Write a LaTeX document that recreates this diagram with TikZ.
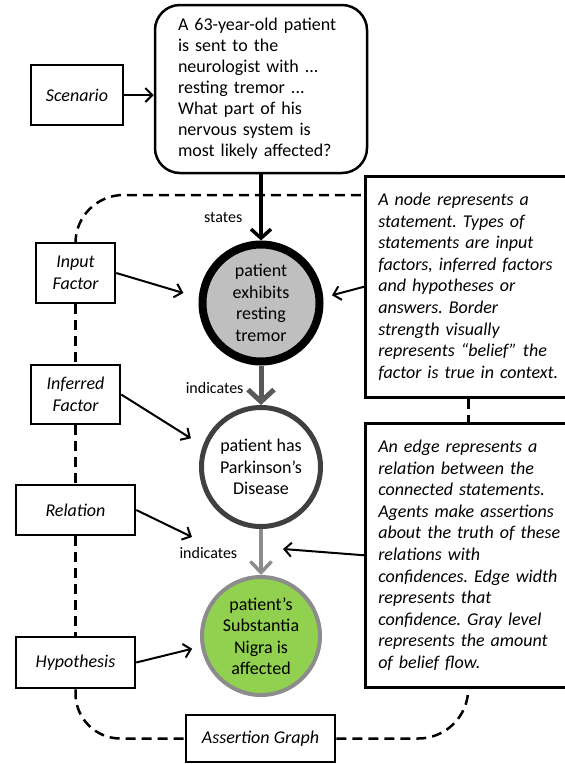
\documentclass[tikz,border=0pt]{standalone}
\usepackage{fontspec}
\setmainfont{Carlito}
\usetikzlibrary{arrows.meta,calc}
\definecolor{cfillgray}{HTML}{BFBFBF}
\definecolor{cdark}{HTML}{404040}
\definecolor{carrowa}{HTML}{595959}
\definecolor{carrowb}{HTML}{8C8C8C}
\definecolor{cgreen}{HTML}{92D050}
\frenchspacing
\begin{document}
\begin{tikzpicture}[x=1pt,y=-1pt,
  tbox/.style={draw, line width=2.5pt, rectangle, inner sep=0pt, align=center,
    font=\fontsize{18}{21.5}\selectfont\itshape},
  infobox/.style={draw, line width=2.5pt, rectangle, inner sep=0pt, inner xsep=0pt,
    minimum width=246pt, text width=220pt, align=left, anchor=north west,
    font=\fontsize{18}{21.6}\selectfont\itshape},
  stmt/.style={circle, draw, inner sep=0pt, align=center,
    font=\fontsize{18}{21.5}\selectfont},
  conn/.style={line width=2pt, -{Straight Barb[length=7pt,width=14pt]}},
  dashline/.style={line width=2.5pt, dash pattern=on 10pt off 6pt},
  lbl/.style={inner sep=0pt, anchor=east, font=\fontsize{16}{19}\selectfont}
]
\useasboundingbox (0,0) rectangle (565,764);
\clip (0,0) rectangle (565,764);

% left legend boxes
\node[tbox, minimum width=92pt, minimum height=60pt] (scen) at (77,95) {Scenario};
\node[tbox, minimum width=79pt, minimum height=60pt] (inp) at (75.5,273) {Input\\Factor};
\node[tbox, minimum width=89pt, minimum height=59pt] (inf) at (75.5,394.5) {Inferred\\Factor};
\node[tbox, minimum width=119pt, minimum height=50pt] (rel) at (75.5,510) {Relation};
\node[tbox, minimum width=119pt, minimum height=51pt] (hyp) at (75.5,662.5) {Hypothesis};
\node[tbox, minimum width=149pt, minimum height=47pt] (ag) at (260.5,738.5) {Assertion Graph};

% scenario text box
\node[draw, line width=2.5pt, rounded corners=25pt, minimum width=212pt, minimum height=168pt,
  text width=166pt, align=left, inner sep=0pt, font=\fontsize{18}{21}\selectfont] (sbox) at (261,89)
  {A 63-year-old patient\\is sent to the\\neurologist with ...\\resting tremor ...\\What part of his\\nervous system is\\most likely affected?};

% statements
\node[stmt, line width=8pt, fill=cfillgray, minimum size=117pt] (c1) at (261,303)
  {patient\\exhibits\\resting\\tremor};
\node[stmt, line width=5pt, draw=cdark, fill=white, minimum size=119pt] (c2) at (261,467)
  {patient has\\Parkinson’s\\Disease};
\node[stmt, line width=4pt, draw=carrowb, fill=cgreen, minimum size=118pt] (c3) at (261,636)
  {patient’s\\Substantia\\Nigra is\\affected};

% right information boxes (cut off by the right margin)
\node[infobox, minimum height=221pt] (rb1) at (364,175)
  {A node represents a\\statement. Types of\\statements are input\\factors, inferred factors\\and hypotheses or\\answers. Border\\strength visually\\represents “belief” the\\factor is true in context.};
\node[infobox, minimum height=264pt] (rb2) at (364,422)
  {An edge represents a\\relation between the\\connected statements.\\Agents make assertions\\about the truth of these\\relations with\\confidences. Edge width\\represents that\\confidence. Gray level\\represents the amount\\of belief flow.};

% dashed assertion graph frame
\draw[dashline, rounded corners=48pt] (inp.north) |- ([yshift=-20pt]rb1.north west);
\draw[dashline] (inp.south) -- (inf.north);
\draw[dashline] (inf.south) -- (rel.north);
\draw[dashline] (rel.south) -- (hyp.north);
\draw[dashline] ([xshift=-20pt]rb1.south) -- ([xshift=-20pt]rb2.north);
\draw[dashline, rounded corners=45pt] (hyp.south) |- (ag.west);
\draw[dashline, rounded corners=50pt] (ag.east) -| ([xshift=-20pt]rb2.south);

% main edges
\draw[conn] (scen.east) -- (scen.east -| sbox.west);
\draw[line width=3.5pt, -{Straight Barb[length=9pt,width=20pt]}] (sbox.south) --
  node[lbl, pos=0.66, xshift=-17pt] {states} (c1.north);
\draw[line width=5pt, draw=carrowa, -{Straight Barb[length=12pt,width=26pt]}] (c1.south) --
  node[lbl, pos=0.57, xshift=-15pt] {indicates} (c2.north);
\draw[line width=3.5pt, draw=carrowb, -{Straight Barb[length=11pt,width=21pt]}] (c2.south) --
  node[lbl, pos=0.52, xshift=-22pt] {indicates} (c3.north);

% legend arrows
\coordinate (reltipL) at (192,537);
\coordinate (reltipR) at (283,549);
\draw[conn, shorten >=16pt] (inp.east) -- (c1.175);
\draw[conn, shorten >=14pt] (inf.east) -- (c2.160);
\draw[conn] (rel.east) -- (reltipL);
\draw[conn, shorten >=9pt] (hyp.east) -- (c3.190);
\draw[conn, shorten >=9pt] (rb1.west) -- (c1.5);
\draw[conn] (rb2.west) -- (reltipR);
\end{tikzpicture}
\end{document}
